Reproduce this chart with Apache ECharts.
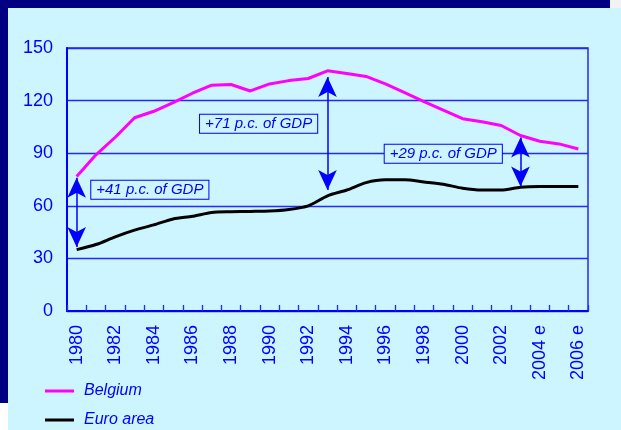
<!DOCTYPE html>
<html>
<head>
<meta charset="utf-8">
<script src="https://cdn.jsdelivr.net/npm/echarts@6/dist/echarts.min.js"></script>
<style>
html,body{margin:0;padding:0;background:#ffffff;}
#chart{width:621px;height:430px;}
</style>
</head>
<body>
<div id="chart"></div>
<script>
const years = ['1980','1981','1982','1983','1984','1985','1986','1987','1988','1989','1990','1991','1992','1993','1994','1995','1996','1997','1998','1999','2000','2001','2002','2003','2004 e','2005','2006 e'];
const belgium = [76.7,89.1,99.1,110.2,113.9,118.8,124.2,128.8,129.2,125.5,129.5,131.4,132.6,137.0,135.5,133.8,129.5,124.6,119.4,114.6,109.7,107.9,105.8,100.1,96.8,95.3,92.4];
const euroArea = [35.0,37.9,42.3,46.1,49.1,52.5,54.0,56.2,56.6,56.8,57.0,57.9,60.0,65.7,69.0,73.2,74.8,74.8,73.6,72.3,70.0,69.0,69.0,70.6,71.0,71.0,71.0];
const yTicks = [0,30,60,90,120,150];

// gap annotations (arrow tips)
const arrowYears = ['1980','1993','2003'];
const arrowLow = [36.5,69.0,71.0];
const arrowHigh = [76.0,133.5,99.0];
const noteTexts = ['+41 p.c. of GDP','+71 p.c. of GDP','+29 p.c. of GDP'];
const noteYears = ['1984','1990','1999'];
const noteValues = [69.2,106.8,89.7];
const noteShift = [-4,-11,0];

const BLUE = '#0000ff';
const GRIDBLUE = '#2626ff';
const NAVY = '#000080';
const BG = '#ccf5ff';
const FONT = '"Liberation Sans", Arial, sans-serif';

const chart = echarts.init(document.getElementById('chart'), null, {renderer:'canvas'});

const option = {
  backgroundColor: BG,
  animation: false,
  textStyle: {fontFamily: FONT},
  graphic: [
    {type:'rect', shape:{x:0,y:0,width:610,height:8}, style:{fill:NAVY}, z:100},
    {type:'rect', shape:{x:610,y:0,width:11,height:8}, style:{fill:'#f2f2f2'}, z:100},
    {type:'rect', shape:{x:0,y:0,width:8,height:403}, style:{fill:NAVY}, z:100},
    {type:'rect', shape:{x:0,y:403,width:8,height:27}, style:{fill:'#ffffff'}, z:100}
  ],
  grid: {
    left: 67, right: 33, top: 48, bottom: 119,
    show: true, borderColor: GRIDBLUE, borderWidth: 1.5, backgroundColor: 'transparent'
  },
  legend: {
    orient: 'vertical',
    left: 45, top: 381,
    padding: 0,
    itemWidth: 29, itemHeight: 3, itemGap: 9,
    icon: 'rect',
    data: ['Belgium','Euro area'],
    textStyle: {color: BLUE, fontSize: 16, fontStyle: 'italic', fontFamily: FONT, lineHeight: 20, padding:[0,0,0,5]}
  },
  xAxis: {
    type: 'category',
    data: years,
    boundaryGap: true,
    axisLine: {show: true, lineStyle: {color: BLUE, width: 2}},
    axisTick: {show: true, inside: true, length: 6, interval: 0, lineStyle: {color: GRIDBLUE, width: 1.3}},
    axisLabel: {interval: 1, rotate: 90, margin: 14, color: BLUE, fontSize: 18, fontFamily: FONT},
    splitLine: {show: false}
  },
  yAxis: {
    type: 'value',
    min: yTicks[0], max: yTicks[yTicks.length-1], interval: yTicks[1]-yTicks[0],
    axisLine: {show: true, lineStyle: {color: BLUE, width: 2}},
    axisTick: {show: false},
    axisLabel: {margin: 14, color: BLUE, fontSize: 18, fontFamily: FONT},
    splitLine: {show: true, lineStyle: {color: GRIDBLUE, width: 1.3}}
  },
  series: [
    {
      name: 'Belgium', type: 'line', data: belgium,
      symbol: 'none', smooth: false,
      lineStyle: {color: '#ff00ff', width: 3},
      itemStyle: {color: '#ff00ff'},
      z: 3
    },
    {
      name: 'Euro area', type: 'line', data: euroArea,
      symbol: 'none', smooth: 0.25,
      lineStyle: {color: '#000000', width: 3},
      itemStyle: {color: '#000000'},
      z: 3,
      markLine: {
        silent: true,
        symbol: ['arrow','arrow'],
        symbolSize: [14, 20],
        lineStyle: {color: BLUE, width: 1.5, type: 'solid'},
        itemStyle: {color: BLUE},
        label: {show: false},
        data: arrowYears.map((y,i) => [
          {coord:[y, arrowLow[i]]},
          {coord:[y, arrowHigh[i]]}
        ]),
        z: 5
      },
      markPoint: {
        silent: true,
        symbol: 'rect',
        symbolSize: 0,
        data: noteYears.map((y,i) => ({
          coord: [y, noteValues[i]],
          value: noteTexts[i],
          label: {offset: [noteShift[i], 0]}
        })),
        label: {
          show: true, position: 'inside',
          formatter: p => p.value,
          color: BLUE, fontSize: 15, fontStyle: 'italic', fontFamily: FONT,
          backgroundColor: BG, borderColor: BLUE, borderWidth: 1,
          padding: [2, 5, 1, 5]
        },
        z: 6
      }
    }
  ]
};
chart.setOption(option);
</script>
</body>
</html>
